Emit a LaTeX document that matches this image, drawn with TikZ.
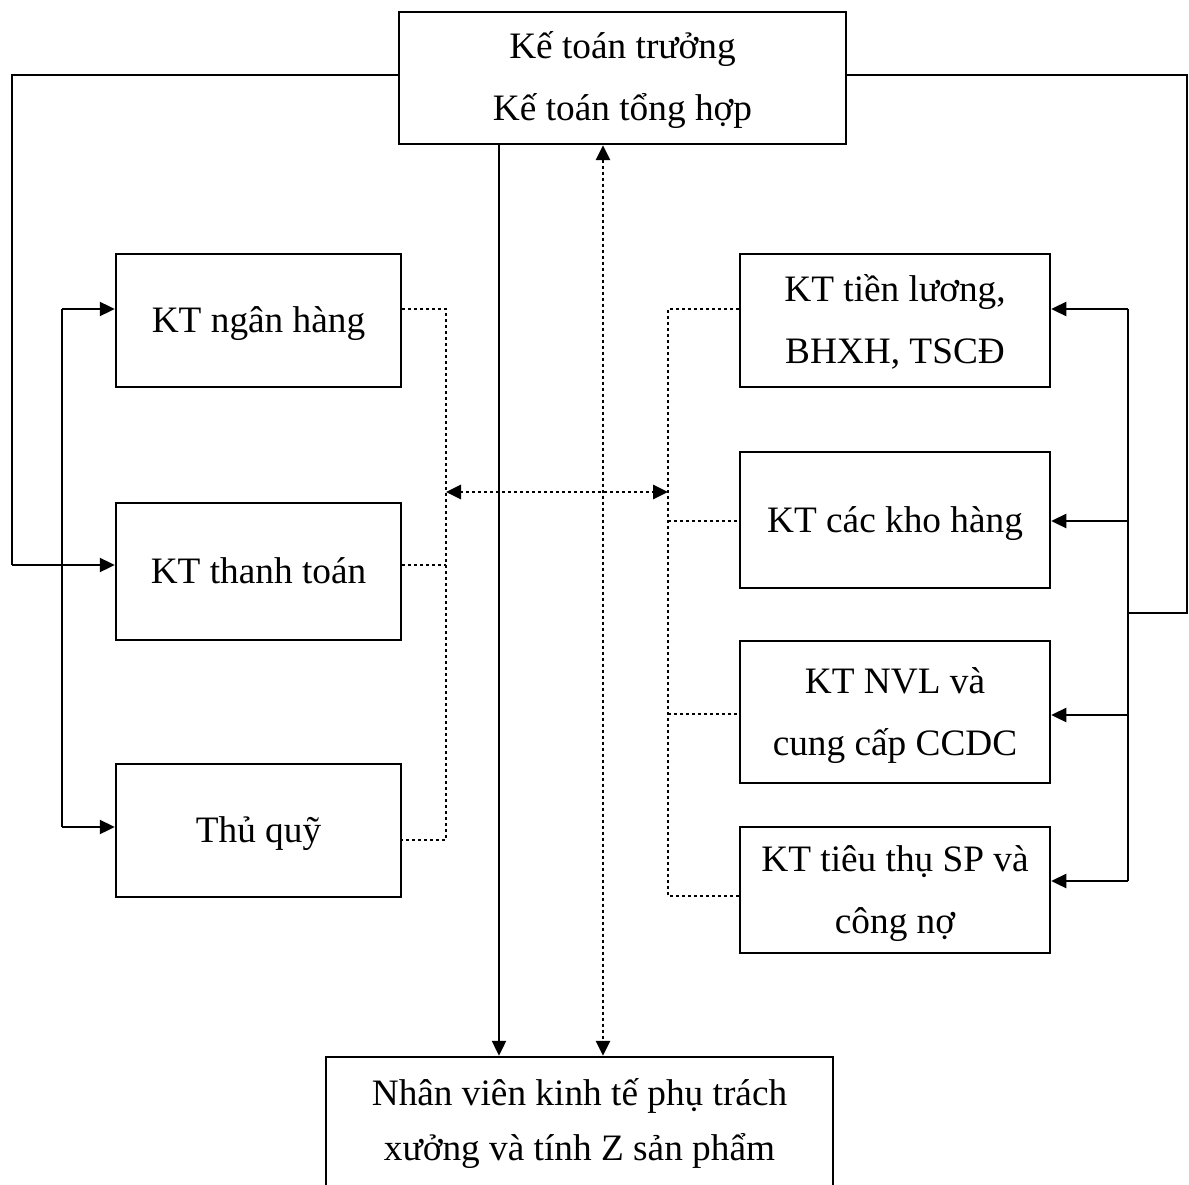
\documentclass[tikz,border=0pt]{standalone}
\usepackage{fontspec}
\setmainfont{Liberation Serif}
\usetikzlibrary{arrows.meta}
% struts that fix the height and depth of every text line
\newcommand\lnA{\rule[-12pt]{0pt}{48pt}}
\newcommand\lnB{\rule[-18pt]{0pt}{54pt}}
\begin{document}
\begin{tikzpicture}[x=1pt,y=-1pt,
  box/.style={draw,line width=2.5pt,rectangle,inner sep=0pt,align=center,
    font=\fontsize{37.3}{62}\selectfont},
  link/.style={line width=2.4pt},
  tip/.style={-{Triangle[length=15pt,width=14pt]}},
  tips/.style={{Triangle[length=15pt,width=14pt]}-{Triangle[length=15pt,width=14pt]}},
  dots/.style={line width=2.8pt,dash pattern=on 3pt off 3pt}]
\useasboundingbox (0,0) rectangle (1189,1185);
\clip (0,0) rectangle (1189,1185);

% boxes
\node[box,minimum width=447pt,minimum height=132pt] (top) at (622.5,78)
  {\lnA Kế toán trưởng\\\lnA Kế toán tổng hợp};
\node[box,minimum width=285pt,minimum height=133pt] (ngan) at (258.5,320.5)
  {\lnA KT ngân hàng};
\node[box,minimum width=285pt,minimum height=137pt] (thanh) at (258.5,571.5)
  {\lnA KT thanh toán};
\node[box,minimum width=285pt,minimum height=133pt] (thuquy) at (258.5,830.5)
  {\lnA Thủ quỹ};
\node[box,minimum width=310pt,minimum height=133pt] (luong) at (895,320.5)
  {\lnA KT tiền lương,\\\lnA BHXH, TSCĐ};
\node[box,minimum width=310pt,minimum height=136pt] (kho) at (895,520)
  {\lnA KT các kho hàng};
\node[box,minimum width=310pt,minimum height=142pt] (nvl) at (895,712)
  {\lnA KT NVL và\\\lnA cung cấp CCDC};
\node[box,minimum width=310pt,minimum height=126pt] (tieuthu) at (895,890)
  {\lnA KT tiêu thụ SP và\\\lnA công nợ};
\node[box,font=\fontsize{37.3}{55}\selectfont,minimum width=507pt,minimum height=133pt]
  (bot) at (579.5,1123.5)
  {\lnB Nhân viên kinh tế phụ trách\\\lnB xưởng và tính Z sản phẩm};

% left loop from the head box to the payments desk
\coordinate (tl) at (12,75);
\coordinate (bl) at (12,565);
\draw[link] (top.west |- tl) -- (tl) -- (bl);
\draw[link,tip] (bl) -- (bl -| thanh.west);

% left bus
\coordinate (lb1) at (62,309);
\coordinate (lb3) at (62,827);
\draw[link] (lb1) -- (lb3);
\draw[link,tip] (lb1) -- (lb1 -| ngan.west);
\draw[link,tip] (lb3) -- (lb3 -| thuquy.west);

% right loop and bus
\coordinate (tr) at (1187,75);
\coordinate (br) at (1187,613);
\coordinate (rb0) at (1128,613);
\draw[link] (top.east |- tr) -- (tr) -- (br) -- (rb0);
\coordinate (rb1) at (1128,309);
\coordinate (rb2) at (1128,521);
\coordinate (rb3) at (1128,715);
\coordinate (rb4) at (1128,881);
\draw[link] (rb1) -- (rb4);
\draw[link,tip] (rb1) -- (rb1 -| luong.east);
\draw[link,tip] (rb2) -- (rb2 -| kho.east);
\draw[link,tip] (rb3) -- (rb3 -| nvl.east);
\draw[link,tip] (rb4) -- (rb4 -| tieuthu.east);

% central verticals to the workshop staff
\coordinate (sv) at (499,0);
\coordinate (dv) at (603,0);
\draw[link,tip] (top.south -| sv) -- (bot.north -| sv);
\draw[dots,tips] (top.south -| dv) -- (bot.north -| dv);

% dotted links on the left
\coordinate (ld1) at (446,309);
\coordinate (ld2) at (446,565);
\coordinate (ld3) at (446,840);
\draw[dots] (ld1 -| ngan.east) -- (ld1) -- (ld3) -- (ld3 -| thuquy.east);
\draw[dots] (ld2 -| thanh.east) -- (ld2);

% dotted links on the right
\coordinate (rd1) at (668,309);
\coordinate (rd2) at (668,521);
\coordinate (rd3) at (668,714);
\coordinate (rd4) at (668,896);
\draw[dots] (rd1 -| luong.west) -- (rd1) -- (rd4) -- (rd4 -| tieuthu.west);
\draw[dots] (rd2) -- (rd2 -| kho.west);
\draw[dots] (rd3) -- (rd3 -| nvl.west);

% exchange between the two groups
\coordinate (cl) at (446,492);
\coordinate (cr) at (668,492);
\draw[dots,tips] (cl) -- (cr);
\end{tikzpicture}
\end{document}
